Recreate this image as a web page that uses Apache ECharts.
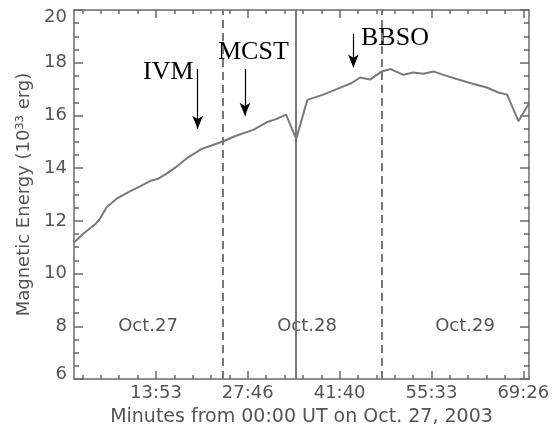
<!DOCTYPE html>
<html>
<head>
<meta charset="utf-8">
<script src="https://cdn.jsdelivr.net/npm/echarts@6/dist/echarts.min.js"></script>
<style>
  html, body { margin: 0; background: #fff; }
  #chart { width: 559px; height: 434px; }
</style>
</head>
<body>
<div id="chart"></div>
<script>
// hours since 00:00 UT Oct 27 2003, energy in 1e33 erg
var hours  = [1.5, 2.89, 4.66, 5.42, 6.43, 7.94, 9.95, 11.48, 12.98, 14.24, 15.51, 17.02, 18.77, 20.8, 22.31,
              24.07, 26.1, 28.61, 30.64, 32.15, 33.56, 35.1, 36.78, 39.2, 41.23, 43.49, 44.75, 46.26, 48.03,
              49.39, 51.3, 52.81, 54.33, 55.84, 57.35, 59.38, 61.39, 63.92, 65.67, 66.99, 68.7, 70.3];
var energy = [11.18, 11.51, 11.86, 12.08, 12.52, 12.84, 13.12, 13.31, 13.51, 13.6, 13.79, 14.06, 14.41, 14.73, 14.86,
              15.02, 15.24, 15.45, 15.74, 15.87, 16.03, 15.11, 16.59, 16.79, 17.0, 17.23, 17.44, 17.36, 17.67,
              17.76, 17.54, 17.63, 17.58, 17.67, 17.54, 17.38, 17.23, 17.06, 16.87, 16.79, 15.78, 16.45];

var xTicks = [13.8889, 27.7778, 41.6667, 55.5556, 69.4444];
var xTickLabels = ['13:53', '27:46', '41:40', '55:33', '69:26'];
var dayLines = [24, 48];
var flareLine = 35.1;

var arrowNames = ['IVM', 'MCST', 'BBSO'];
var arrowX = [20.2, 27.35, 43.74];
var arrowFrom = [17.76, 17.76, 19.1];
var arrowTo = [15.49, 15.99, 17.82];

var xMin = 1.5, xMax = 70.3;
var yMin = 6, yMax = 20;

// minor ticks every 1/5 of a major step
var minorTicks = [];
var step = xTicks[0] / 5;
for (var k = 1; k * step < xMax; k++) {
  if (k % 5 != 0) minorTicks.push(k * step);
}

var gray = '#6a6a6a';
var textGray = '#555';
var sans = 'DejaVu Sans';

var pts = [];
for (var i = 0; i < hours.length; i++) pts.push([hours[i], energy[i]]);

var marks = [];
dayLines.forEach(function(d) {
  marks.push({ xAxis: d, lineStyle: { type: [8, 5], color: '#777', width: 2 } });
});
marks.push({ xAxis: flareLine, lineStyle: { type: 'solid', color: '#777', width: 2 } });

var arrows = [];
for (var j = 0; j < arrowX.length; j++) {
  arrows.push([{ coord: [arrowX[j], arrowFrom[j]] }, { coord: [arrowX[j], arrowTo[j]] }]);
}

var chart = echarts.init(document.getElementById('chart'));
var option = {
  animation: false,
  grid: [
    { left: 74, right: 30, top: 10, bottom: 55 },
    { left: 74, right: 30, top: 10, bottom: 55 }
  ],
  xAxis: [
    {
      gridIndex: 0, type: 'value', position: 'bottom', min: xMin, max: xMax,
      name: 'Minutes from 00:00 UT on Oct. 27, 2003', nameLocation: 'middle', nameGap: 29,
      nameTextStyle: { fontFamily: sans, fontSize: 19, color: textGray },
      axisLine: { lineStyle: { color: gray, width: 1.5 } },
      axisTick: { inside: true, length: 8, customValues: xTicks, lineStyle: { color: gray, width: 1.5 } },
      axisLabel: {
        customValues: xTicks, margin: 5, fontFamily: sans, fontSize: 18, color: textGray,
        formatter: function(v) {
          for (var n = 0; n < xTicks.length; n++) if (Math.abs(xTicks[n] - v) < 0.01) return xTickLabels[n];
          return '';
        }
      },
      splitLine: { show: false }
    },
    {
      gridIndex: 0, type: 'value', position: 'top', min: xMin, max: xMax,
      axisLine: { lineStyle: { color: gray, width: 1.5 } },
      axisTick: { inside: true, length: 8, customValues: xTicks, lineStyle: { color: gray, width: 1.5 } },
      axisLabel: { show: false },
      splitLine: { show: false }
    },
    {
      gridIndex: 1, type: 'value', position: 'bottom', min: xMin, max: xMax,
      axisLine: { show: false },
      axisTick: { inside: true, length: 4, customValues: minorTicks, lineStyle: { color: gray, width: 1.5 } },
      axisLabel: { show: false },
      splitLine: { show: false }
    },
    {
      gridIndex: 1, type: 'value', position: 'top', min: xMin, max: xMax,
      axisLine: { show: false },
      axisTick: { inside: true, length: 4, customValues: minorTicks, lineStyle: { color: gray, width: 1.5 } },
      axisLabel: { show: false },
      splitLine: { show: false }
    }
  ],
  yAxis: [
    {
      gridIndex: 0, type: 'value', position: 'left', min: yMin, max: yMax, interval: 2,
      name: 'Magnetic Energy (10³³ erg)', nameLocation: 'middle', nameGap: 39,
      nameTextStyle: { fontFamily: sans, fontSize: 18, color: textGray },
      axisLine: { show: true, lineStyle: { color: gray, width: 1.5 } },
      axisTick: { show: true, inside: true, length: 9, lineStyle: { color: gray, width: 1.5 } },
      minorTick: { show: true, splitNumber: 4, length: 5, lineStyle: { color: gray, width: 1.5 } },
      axisLabel: {
        margin: 7, fontFamily: sans, fontSize: 18, color: textGray,
        formatter: function(v) {
          if (v == yMax) return '{top|' + v + '}';
          if (v == yMin) return '{bot|' + v + '}';
          return v;
        },
        rich: {
          top: { fontFamily: sans, fontSize: 18, color: textGray, padding: [14, 0, 0, 0] },
          bot: { fontFamily: sans, fontSize: 18, color: textGray, padding: [0, 0, 10, 0] }
        }
      },
      splitLine: { show: false }
    },
    {
      gridIndex: 0, type: 'value', position: 'right', min: yMin, max: yMax, interval: 2,
      axisLine: { show: true, lineStyle: { color: gray, width: 1.5 } },
      axisTick: { show: true, inside: true, length: 9, lineStyle: { color: gray, width: 1.5 } },
      minorTick: { show: true, splitNumber: 4, length: 5, lineStyle: { color: gray, width: 1.5 } },
      axisLabel: { show: false },
      splitLine: { show: false }
    },
    { gridIndex: 1, type: 'value', min: yMin, max: yMax, show: false }
  ],
  series: [
    {
      type: 'line', xAxisIndex: 0, yAxisIndex: 0, data: pts,
      symbol: 'none', lineStyle: { color: '#7a7a7a', width: 2 },
      markLine: { silent: true, symbol: 'none', label: { show: false }, data: marks }
    },
    {
      type: 'line', xAxisIndex: 0, yAxisIndex: 0, data: [],
      markLine: {
        silent: true, symbol: ['none', 'arrow'], symbolSize: [8, 13],
        label: { show: false }, lineStyle: { type: 'solid', color: '#000', width: 1.2 },
        data: arrows
      }
    }
  ],
  graphic: [
    { type: 'text', left: 143, top: 59, style: { text: arrowNames[0], font: '26px "Liberation Serif"', fill: '#000' } },
    { type: 'text', left: 218, top: 39, style: { text: arrowNames[1], font: '26px "Liberation Serif"', fill: '#000' } },
    { type: 'text', left: 361, top: 25, style: { text: arrowNames[2], font: '26px "Liberation Serif"', fill: '#000' } },
    { type: 'text', x: 148, y: 326, style: { text: 'Oct.27', font: '18px "DejaVu Sans"', fill: textGray, align: 'center', verticalAlign: 'middle' } },
    { type: 'text', x: 307, y: 326, style: { text: 'Oct.28', font: '18px "DejaVu Sans"', fill: textGray, align: 'center', verticalAlign: 'middle' } },
    { type: 'text', x: 465, y: 326, style: { text: 'Oct.29', font: '18px "DejaVu Sans"', fill: textGray, align: 'center', verticalAlign: 'middle' } }
  ]
};
chart.setOption(option);
</script>
</body>
</html>
